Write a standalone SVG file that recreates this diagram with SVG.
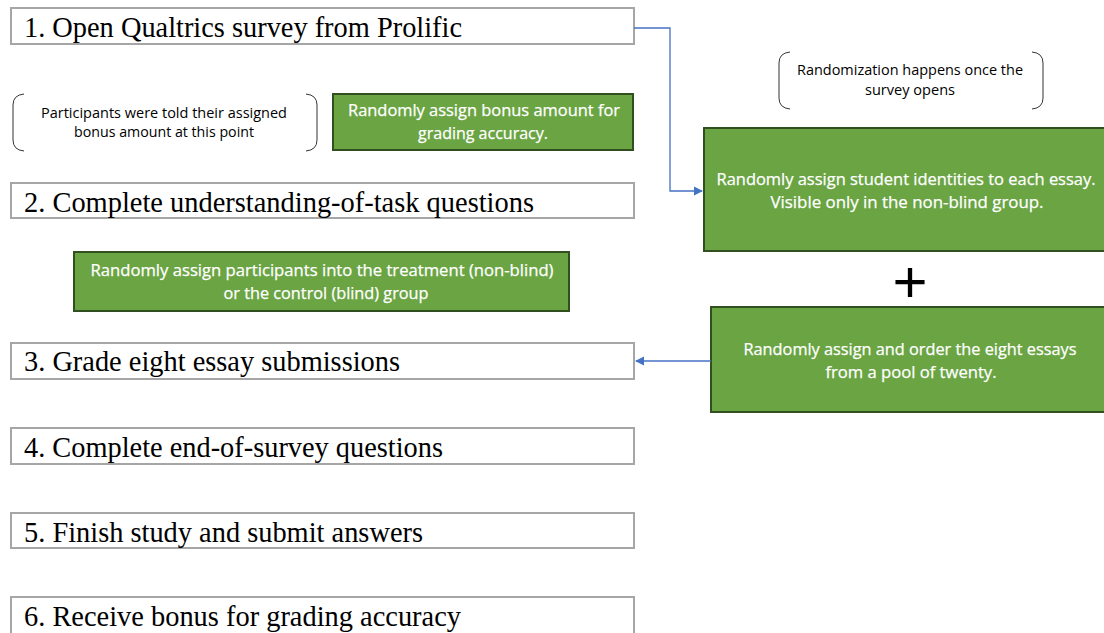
<svg xmlns="http://www.w3.org/2000/svg" width="1104" height="633" viewBox="0 0 1104 633">
<style>
.step{fill:#fff;stroke:#a6a6a6;stroke-width:2}
.stept{font-family:"Liberation Serif","Times New Roman",serif;font-size:29px;fill:#000}
.green{fill:#6aa443;stroke:#314f1f;stroke-width:2}
.gt{font-family:"Open Sans","Liberation Sans",sans-serif;font-size:16px;fill:#fff;stroke:#fff;stroke-width:0.25;text-anchor:middle}
.note{font-family:"Open Sans","Liberation Sans",sans-serif;font-size:14px;fill:#000;text-anchor:middle}
.br{fill:none;stroke:#333;stroke-width:1}
.conn{fill:none;stroke:#4472c4;stroke-width:1.3}
</style>
<defs>
<marker id="arr" markerWidth="10" markerHeight="10" refX="8" refY="5" orient="auto" markerUnits="userSpaceOnUse">
<path d="M0,0.5 L9,5 L0,9.5 z" fill="#4472c4"/>
</marker>
</defs>
<rect width="1104" height="633" fill="#fff"/>

<g id="step1"><rect class="step" x="11" y="8" width="623" height="36"/><text class="stept" x="24" y="37" textLength="438" lengthAdjust="spacingAndGlyphs">1. Open Qualtrics survey from Prolific</text></g>
<g id="note-bonus">
<path class="br" d="M24,94 Q13,95 13,105 L13,140 Q13,150 24,151"/>
<path class="br" d="M306,94 Q317,95 317,105 L317,140 Q317,150 306,151"/>
<text class="note" x="164" y="118" textLength="246" lengthAdjust="spacingAndGlyphs">Participants were told their assigned</text>
<text class="note" x="164" y="137" textLength="180" lengthAdjust="spacingAndGlyphs">bonus amount at this point</text>
</g>
<g id="assign-bonus"><rect class="green" x="333" y="94" width="300" height="56"/>
<text class="gt" x="484" y="116" textLength="272" lengthAdjust="spacingAndGlyphs">Randomly assign bonus amount for</text>
<text class="gt" x="483" y="139" textLength="130" lengthAdjust="spacingAndGlyphs">grading accuracy.</text></g>
<g id="step2"><rect class="step" x="11" y="183" width="623" height="35"/><text class="stept" x="24" y="212" textLength="510" lengthAdjust="spacingAndGlyphs">2. Complete understanding-of-task questions</text></g>
<g id="assign-group"><rect class="green" x="74" y="252" width="495" height="59"/>
<text class="gt" x="322" y="276" textLength="463" lengthAdjust="spacingAndGlyphs">Randomly assign participants into the treatment (non-blind)</text>
<text class="gt" x="326" y="299" textLength="205" lengthAdjust="spacingAndGlyphs">or the control (blind) group</text></g>
<g id="step3"><rect class="step" x="11" y="343" width="623" height="36"/><text class="stept" x="24" y="371" textLength="376" lengthAdjust="spacingAndGlyphs">3. Grade eight essay submissions</text></g>
<g id="step4"><rect class="step" x="11" y="428" width="623" height="36"/><text class="stept" x="24" y="457" textLength="419" lengthAdjust="spacingAndGlyphs">4. Complete end-of-survey questions</text></g>
<g id="step5"><rect class="step" x="11" y="513" width="623" height="35"/><text class="stept" x="24" y="542" textLength="399" lengthAdjust="spacingAndGlyphs">5. Finish study and submit answers</text></g>
<g id="step6"><rect class="step" x="11" y="597" width="623" height="40"/><text class="stept" x="24" y="626" textLength="437" lengthAdjust="spacingAndGlyphs">6. Receive bonus for grading accuracy</text></g>

<g id="note-random">
<path class="br" d="M790,52 Q779,53 779,63 L779,98 Q779,108 790,109"/>
<path class="br" d="M1032,52 Q1043,53 1043,63 L1043,98 Q1043,108 1032,109"/>
<text class="note" x="910" y="75" textLength="226" lengthAdjust="spacingAndGlyphs">Randomization happens once the</text>
<text class="note" x="910" y="95" textLength="90" lengthAdjust="spacingAndGlyphs">survey opens</text>
</g>
<g id="assign-identities"><rect class="green" x="704" y="128" width="402" height="123"/>
<text class="gt" x="906" y="185" textLength="379" lengthAdjust="spacingAndGlyphs">Randomly assign student identities to each essay.</text>
<text class="gt" x="907" y="208" textLength="273" lengthAdjust="spacingAndGlyphs">Visible only in the non-blind group.</text></g>
<g id="plus"><text x="910" y="302" font-family="Liberation Sans,Arial,sans-serif" font-size="60" text-anchor="middle" fill="#000">+</text></g>
<g id="assign-essays"><rect class="green" x="711" y="307" width="395" height="105"/>
<text class="gt" x="910" y="355" textLength="333" lengthAdjust="spacingAndGlyphs">Randomly assign and order the eight essays</text>
<text class="gt" x="911" y="378" textLength="171" lengthAdjust="spacingAndGlyphs">from a pool of twenty.</text></g>

<g id="connectors">
<path class="conn" d="M634,28 L670,28 L670,191 L702,191" marker-end="url(#arr)"/>
<path class="conn" d="M711,361 L636,361" marker-end="url(#arr)"/>
</g>
</svg>
